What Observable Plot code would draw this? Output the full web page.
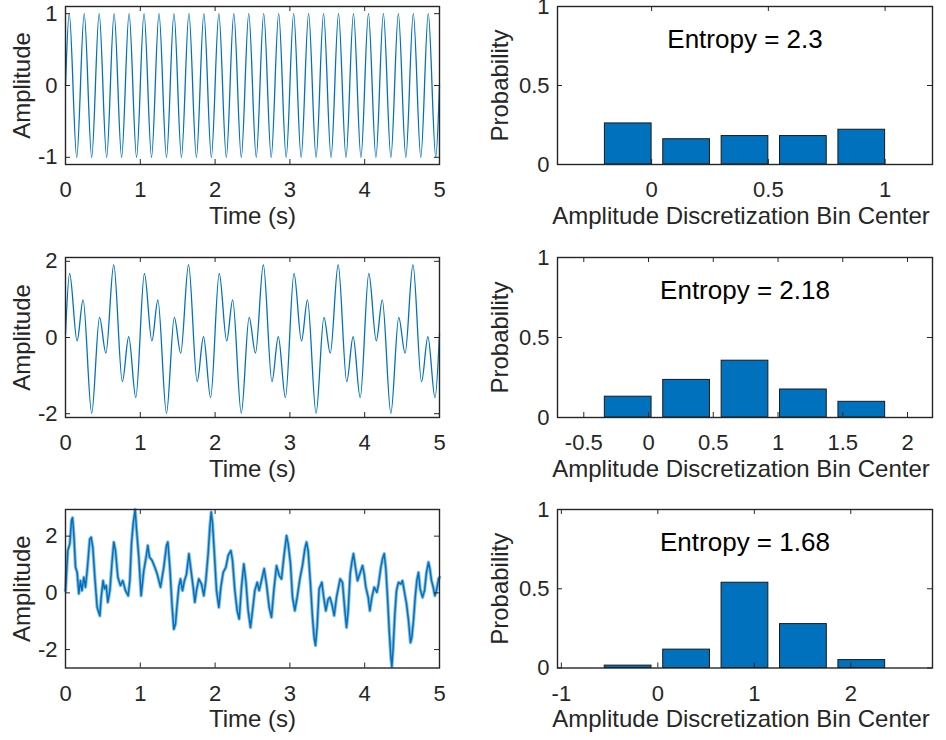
<!DOCTYPE html>
<html><head><meta charset="utf-8">
<script src="https://cdn.jsdelivr.net/npm/d3@7"></script>
<script src="https://cdn.jsdelivr.net/npm/@observablehq/plot@0.6"></script>
<style>
html,body{margin:0;padding:0;background:#fff;}
#fig{position:relative;width:946px;height:740px;overflow:hidden;background:#fff;}
#fig > div{position:absolute;}
</style></head><body><div id="fig"></div>
<script>
// ---------- data ----------
const timeTicks = [0, 1, 2, 3, 4, 5];

// Signal 1: pure sine, extrema (peaks/troughs)
const sig1T = [0,0.05,0.15,0.25,0.35,0.45,0.55,0.65,0.75,0.85,0.95,1.05,1.15,1.25,1.35,1.45,1.55,1.65,1.75,1.85,1.95,2.05,2.15,2.25,2.35,2.45,2.55,2.65,2.75,2.85,2.95,3.05,3.15,3.25,3.35,3.45,3.55,3.65,3.75,3.85,3.95,4.05,4.15,4.25,4.35,4.45,4.55,4.65,4.75,4.85,4.95,5];
const sig1V = [0,1,-1,1,-1,1,-1,1,-1,1,-1,1,-1,1,-1,1,-1,1,-1,1,-1,1,-1,1,-1,1,-1,1,-1,1,-1,1,-1,1,-1,1,-1,1,-1,1,-1,1,-1,1,-1,1,-1,1,-1,1,-1,0];
const sig1YTicks = [-1, 0, 1];

// Signal 2: sum of sines, extrema
const sig2T = [0,
  0.055,0.155,0.235,0.35,0.455,0.54,0.645,0.76,0.845,0.94,
  1.055,1.155,1.235,1.35,1.455,1.54,1.645,1.76,1.845,1.94,
  2.055,2.155,2.235,2.35,2.455,2.54,2.645,2.76,2.845,2.94,
  3.055,3.155,3.235,3.35,3.455,3.54,3.645,3.76,3.845,3.94,
  4.055,4.155,4.235,4.35,4.455,4.54,4.645,4.76,4.845,4.94,
  5];
const sig2V = [0.1,
  1.68,-0.09,0.99,-1.99,0.53,-0.41,1.91,-1.16,0.02,-1.58,
  1.68,-0.09,0.99,-1.99,0.53,-0.41,1.91,-1.16,0.02,-1.58,
  1.68,-0.09,0.99,-1.99,0.53,-0.41,1.91,-1.16,0.02,-1.58,
  1.68,-0.09,0.99,-1.99,0.53,-0.41,1.91,-1.16,0.02,-1.58,
  1.68,-0.09,0.99,-1.99,0.53,-0.41,1.91,-1.16,0.02,-1.58,
  0.1];
const sig2YTicks = [-2, 0, 2];

// Signal 3: noisy signal
const sig3T = [0,0.031,0.058,0.08,0.094,0.111,0.134,0.156,0.178,0.2,0.22,0.245,0.267,0.29,0.325,0.343,0.365,0.392,0.423,0.459,0.477,0.503,0.521,0.544,0.566,0.593,0.624,0.646,0.668,0.7,0.735,0.766,0.802,0.838,0.86,0.882,0.905,0.931,0.949,0.98,1.011,1.047,1.078,1.1,1.123,1.158,1.194,1.225,1.27,1.314,1.35,1.368,1.395,1.426,1.448,1.47,1.493,1.515,1.537,1.564,1.59,1.617,1.65,1.68,1.707,1.729,1.751,1.782,1.818,1.849,1.876,1.907,1.93,1.948,1.966,1.988,2.019,2.05,2.077,2.108,2.144,2.175,2.211,2.233,2.264,2.295,2.322,2.353,2.384,2.411,2.442,2.473,2.5,2.531,2.563,2.589,2.62,2.656,2.687,2.723,2.754,2.785,2.821,2.857,2.888,2.919,2.955,2.977,3.008,3.035,3.066,3.097,3.133,3.168,3.2,3.222,3.244,3.275,3.302,3.324,3.342,3.364,3.391,3.427,3.449,3.48,3.512,3.534,3.561,3.592,3.623,3.65,3.672,3.703,3.735,3.757,3.779,3.806,3.828,3.85,3.873,3.904,3.935,3.971,3.993,4.015,4.047,4.069,4.096,4.127,4.163,4.185,4.216,4.238,4.261,4.283,4.31,4.328,4.35,4.363,4.381,4.403,4.425,4.452,4.483,4.505,4.532,4.559,4.586,4.612,4.63,4.652,4.675,4.697,4.719,4.741,4.773,4.8,4.826,4.853,4.871,4.893,4.916,4.938,4.96,4.987,5];
const sig3V = [0.08,1.49,1.73,2.55,2.65,2.08,0.9,0.72,-0.03,0.43,0.08,0.55,0.2,0.79,1.9,1.96,1.61,0.55,-0.51,-0.81,-0.16,0.43,0.14,0.26,-0.33,0.08,1.14,1.79,1.49,0.55,0.26,0.43,0.08,-0.1,0.43,1.73,2.44,2.94,2.26,1.26,-0.1,0.79,1.26,1.67,1.26,1.14,0.9,0.67,0.2,0.9,1.67,1.79,0.9,-0.51,-1.28,-1.1,-0.39,0.2,0.49,0.08,0.43,0.65,1.38,0.75,0.2,-0.33,0.08,0.49,0.31,-0.1,0.43,1.38,2.32,2.85,2.44,1.49,0.08,-0.51,0.2,0.72,0.9,1.32,1.49,1.14,0.08,-0.63,-0.92,0.2,1.02,0.43,-0.63,-1.22,-0.63,0.08,0.37,0.08,0.43,0.85,0.31,-0.51,-0.86,0.08,0.96,0.61,0.49,1.26,2.02,1.73,1.02,-0.16,-0.63,-0.16,0.49,0.96,1.55,1.79,1.49,0.31,-0.86,-1.57,-1.86,-1.2,0.14,0.37,-0.1,-0.63,-0.22,-0.16,-0.39,-0.8,-0.16,0.2,0.49,0.37,-0.63,-1.22,-0.63,0.67,1.08,1.38,0.96,0.43,0.67,0.96,0.67,0.2,-0.16,-0.63,-0.16,0.2,0.02,0.31,0.9,1.2,1.38,0.85,-0.39,-1.34,-2.28,-2.6,-1.92,-0.75,0.08,0.37,0.31,0.43,0.02,-0.39,-0.98,-1.75,-1.57,-0.98,-0.16,0.43,0.72,0.14,-0.16,0.08,0.72,1.08,0.85,0.43,0.2,-0.1,0.08,0.49,0.55];
const sig3YTicks = [-2, 0, 2];

// Histograms: bin centers and probabilities
const hist1Centers = [-0.1, 0.15, 0.4, 0.65, 0.9];
const hist1Prob    = [0.26, 0.16, 0.18, 0.18, 0.22];
const hist1XTicks  = [0, 0.5, 1];
const hist1Entropy = "Entropy = 2.3";

const hist2Centers = [-0.157, 0.294, 0.745, 1.196, 1.647];
const hist2Prob    = [0.13, 0.235, 0.355, 0.175, 0.098];
const hist2XTicks  = [-0.5, 0, 0.5, 1, 1.5, 2];
const hist2Entropy = "Entropy = 2.18";

const hist3Centers = [-0.308, 0.298, 0.903, 1.509, 2.114];
const hist3Prob    = [0.015, 0.116, 0.538, 0.277, 0.05];
const hist3XTicks  = [-1, 0, 1, 2];
const hist3Entropy = "Entropy = 1.68";

const probTicks = [0, 0.5, 1];

// ---------- drawing ----------
const INK = "#262626", BLUE = "#0072BD";
const FONT = "'Liberation Sans', Arial, Helvetica, sans-serif";
const fig = document.getElementById("fig");
const fmt = d => String(d);

function panel(o) {
  const fw = o.width - o.mL - o.mR, fh = o.height - o.mT - o.mB;
  const svg = Plot.plot({
    width: o.width, height: o.height,
    marginLeft: o.mL, marginRight: o.mR, marginTop: o.mT, marginBottom: o.mB,
    style: {fontFamily: FONT, fontSize: "22px", color: INK, background: "transparent", overflow: "visible"},
    x: {domain: o.xDomain, label: null},
    y: {domain: o.yDomain, label: null},
    marks: [
      ...o.marks,
      Plot.axisX({ticks: o.xTicks, tickSize: 0, tickPadding: 17, tickFormat: fmt, fontSize: 22, label: null}),
      Plot.axisY({ticks: o.yTicks, tickSize: 0, tickPadding: 8, tickFormat: fmt, fontSize: 22, label: null}),
      Plot.tickX(o.xTicks, {x: d => d, insetTop: fh - 5, stroke: INK, strokeWidth: 1}),
      Plot.tickX(o.xTicks, {x: d => d, insetBottom: fh - 5, stroke: INK, strokeWidth: 1}),
      Plot.tickY(o.yTicks, {y: d => d, insetRight: fw - 5, stroke: INK, strokeWidth: 1}),
      Plot.tickY(o.yTicks, {y: d => d, insetLeft: fw - 5, stroke: INK, strokeWidth: 1}),
      Plot.frame({stroke: INK, strokeWidth: 1.4}),
      Plot.text([o.xLabel], {text: d => d, frameAnchor: "bottom", textAnchor: "middle", dy: 42, dx: o.xLabelDx || 0, lineAnchor: "top", fontSize: 24, fill: INK}),
      Plot.text([o.yLabel], {text: d => d, frameAnchor: "left", textAnchor: "middle", dx: o.yLabelDx, rotate: -90, lineAnchor: "middle", fontSize: 24, fill: INK})
    ]
  });
  const wrap = document.createElement("div");
  wrap.style.left = o.left + "px";
  wrap.style.top = o.top + "px";
  wrap.appendChild(svg);
  fig.appendChild(wrap);
}

const rows = [
  {top: 0,   height: 245, mT: 6,  mB: 81},
  {top: 245, height: 245, mT: 12, mB: 73},
  {top: 490, height: 250, mT: 19, mB: 72.5}
];

const signals = [
  {t: sig1T, v: sig1V, yDomain: [-1.1, 1.1], yTicks: sig1YTicks, curve: "monotone-x", sw: 1.3, halo: false},
  {t: sig2T, v: sig2V, yDomain: [-2.1, 2.1], yTicks: sig2YTicks, curve: "monotone-x", sw: 1.3, halo: false},
  {t: sig3T, v: sig3V, yDomain: [-2.65, 2.94], yTicks: sig3YTicks, curve: "linear", sw: 1.5, halo: true}
];

const hists = [
  {c: hist1Centers, p: hist1Prob, xTicks: hist1XTicks, xDomain: [-0.403, 1.203], label: hist1Entropy},
  {c: hist2Centers, p: hist2Prob, xTicks: hist2XTicks, xDomain: [-0.703, 2.193], label: hist2Entropy},
  {c: hist3Centers, p: hist3Prob, xTicks: hist3XTicks, xDomain: [-1.04, 2.847], label: hist3Entropy}
];

rows.forEach((r, i) => {
  const s = signals[i];
  const pts = s.t.map((t, k) => ({t, v: s.v[k]}));
  const lineMarks = [];
  if (s.halo) lineMarks.push(Plot.line(pts, {x: "t", y: "v", stroke: BLUE, strokeOpacity: 0.45, strokeWidth: 3.4, curve: s.curve}));
  lineMarks.push(Plot.line(pts, {x: "t", y: "v", stroke: BLUE, strokeWidth: s.sw, curve: s.curve}));
  panel({
    left: 0, top: r.top, width: 470, height: r.height,
    mL: 65, mR: 31, mT: r.mT, mB: r.mB,
    xDomain: [0, 5], yDomain: s.yDomain, xTicks: timeTicks, yTicks: s.yTicks,
    xLabel: "Time (s)", yLabel: "Amplitude", yLabelDx: -43,
    marks: lineMarks
  });

  const h = hists[i];
  const bw = 0.8 * (h.c[1] - h.c[0]);
  const bars = h.c.map((c, k) => ({c, p: h.p[k]}));
  panel({
    left: 470, top: r.top, width: 476, height: r.height,
    mL: 87, mR: 14, mT: r.mT, mB: r.mB,
    xDomain: h.xDomain, yDomain: [0, 1], xTicks: h.xTicks, yTicks: probTicks,
    xLabel: "Amplitude Discretization Bin Center", xLabelDx: -4, yLabel: "Probability", yLabelDx: -57,
    marks: [
      Plot.rectY(bars, {x1: d => d.c - bw / 2, x2: d => d.c + bw / 2, y: "p", fill: BLUE, stroke: "#1a1a1a", strokeWidth: 1}),
      Plot.text([{c: h.c[2], s: h.label}], {x: "c", text: "s", frameAnchor: "top", dy: 33, lineAnchor: "middle", fontSize: 26, fill: "#000"})
    ]
  });
});
</script>
</body></html>
